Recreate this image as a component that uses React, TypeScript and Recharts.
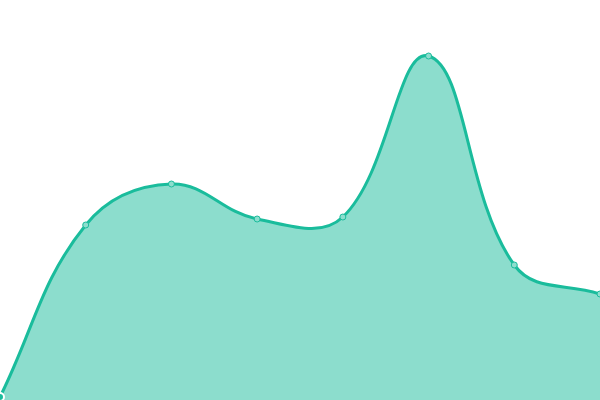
import React from "react";
import { AreaChart, Area, XAxis, YAxis } from "recharts";

const labels = ["A", "B", "C", "D", "E", "F", "G", "H"];
const values = [3, 175, 216, 181, 183, 344, 135, 106];

const data = labels.map((label, i) => ({ label, value: values[i] }));

// spline with tension 0.4, control points from neighbours (Chart.js style)
class TensionCurve {
  ctx: any;
  t: number;
  line: number = NaN;
  pts: [number, number][] = [];
  constructor(ctx: any, t: number) {
    this.ctx = ctx;
    this.t = t;
  }
  areaStart() {
    this.line = 0;
  }
  areaEnd() {
    this.line = NaN;
  }
  lineStart() {
    this.pts = [];
  }
  point(x: number, y: number) {
    this.pts.push([+x, +y]);
  }
  lineEnd() {
    const p = this.pts;
    const n = p.length;
    if (n) {
      if (this.line) this.ctx.lineTo(p[0][0], p[0][1]);
      else this.ctx.moveTo(p[0][0], p[0][1]);
      const cps = p.map((cur, i) => {
        const prev = p[Math.max(i - 1, 0)];
        const next = p[Math.min(i + 1, n - 1)];
        const d01 = Math.hypot(cur[0] - prev[0], cur[1] - prev[1]);
        const d12 = Math.hypot(next[0] - cur[0], next[1] - cur[1]);
        const sum = d01 + d12 || 1;
        const fa = (this.t * d01) / sum;
        const fb = (this.t * d12) / sum;
        return {
          px: cur[0] - fa * (next[0] - prev[0]),
          py: cur[1] - fa * (next[1] - prev[1]),
          nx: cur[0] + fb * (next[0] - prev[0]),
          ny: cur[1] + fb * (next[1] - prev[1]),
        };
      });
      for (let i = 1; i < n; i++) {
        this.ctx.bezierCurveTo(
          cps[i - 1].nx,
          cps[i - 1].ny,
          cps[i].px,
          cps[i].py,
          p[i][0],
          p[i][1]
        );
      }
    }
    if (this.line || (this.line !== 0 && n === 1)) this.ctx.closePath();
    this.line = 1 - this.line;
  }
}

const tensionCurve: any = (ctx: any) => new TensionCurve(ctx, 0.4);

export default function App() {
  return (
    <div style={{ position: "fixed", top: 0, left: 0, background: "#fff" }}>
      <AreaChart
        width={600}
        height={400}
        data={data}
        margin={{ top: 0, right: 0, bottom: 0, left: 0 }}
      >
        <XAxis dataKey="label" hide />
        <YAxis domain={[0, 400]} hide />
        <Area
          type={tensionCurve}
          dataKey="value"
          stroke="#1abc9c"
          strokeWidth={3}
          fill="#1abc9c"
          fillOpacity={0.5}
          dot={{ r: 3, fill: "#8ddece", stroke: "#1abc9c", strokeWidth: 1, fillOpacity: 1 }}
          isAnimationActive={false}
        />
      </AreaChart>
    </div>
  );
}
